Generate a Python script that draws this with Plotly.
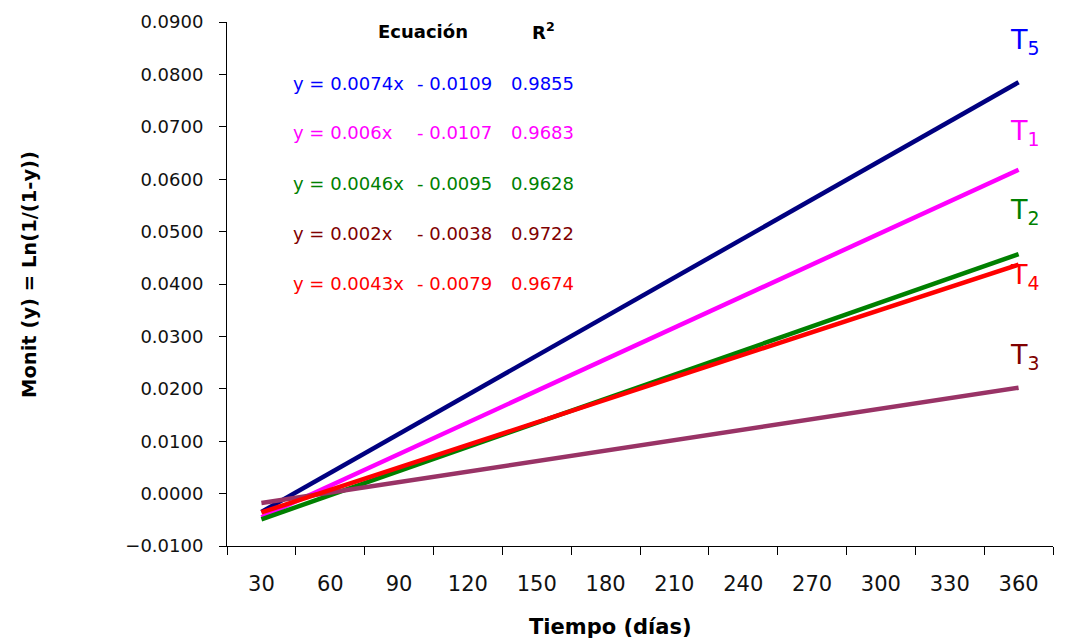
import plotly.graph_objects as go

# ---- data ----
days = [30, 60, 90, 120, 150, 180, 210, 240, 270, 300, 330, 360]
tick_labels = ["30", "60", "90", "120", "150", "180", "210", "240", "270", "300", "330", "360"]
line_x = [30, 360]  # trend lines drawn from first to last day
series_names = ["T5", "T1", "T2", "T3", "T4"]
t5_vals = [-0.0035, 0.0785]
t1_vals = [-0.0045, 0.0618]
t2_vals = [-0.0049, 0.0457]
t3_vals = [-0.0018, 0.0202]
t4_vals = [-0.0036, 0.0437]
equations_left = ["y = 0.0074x", "y = 0.006x", "y = 0.0046x", "y = 0.002x", "y = 0.0043x"]
equations_right = ["- 0.0109", "- 0.0107", "- 0.0095", "- 0.0038", "- 0.0079"]
r2_values = ["0.9855", "0.9683", "0.9628", "0.9722", "0.9674"]
y_tick_vals = [-0.01, 0.0, 0.01, 0.02, 0.03, 0.04, 0.05, 0.06, 0.07, 0.08, 0.09]

# ---- styles ----
line_colors = ["#000080", "#FF00FF", "#008000", "#993366", "#FF0000"]
text_colors = ["#0000FF", "#FF00FF", "#008000", "#800000", "#FF0000"]
FONT = "DejaVu Sans"

W, H = 1068, 644
L, R, T, B = 227, 15, 22, 98
PW, PH = W - L - R, H - T - B


def px(xp):
    return (xp - L) / PW


def py(yp):
    return (H - B - yp) / PH


fig = go.Figure()
all_vals = [t5_vals, t1_vals, t2_vals, t3_vals, t4_vals]
for name, vals, col in zip(series_names, all_vals, line_colors):
    fig.add_trace(go.Scatter(x=line_x, y=vals, mode="lines", name=name,
                             line=dict(color=col, width=4.5), showlegend=False))

ann = []
# header
ann.append(dict(x=px(423), y=py(31), text="<b>Ecuación</b>", font=dict(size=18, color="#000", family=FONT)))
ann.append(dict(x=px(543), y=py(31), text="<b>R<sup>2</sup></b>", font=dict(size=18, color="#000", family=FONT)))
eq_y = [83, 132, 183, 233, 283]
for i in range(5):
    f = dict(size=18, color=text_colors[i], family=FONT)
    ann.append(dict(x=px(291), y=py(eq_y[i]), text=equations_left[i], font=f, xanchor="left"))
    ann.append(dict(x=px(415), y=py(eq_y[i]), text=equations_right[i], font=f, xanchor="left"))
    ann.append(dict(x=px(509), y=py(eq_y[i]), text=r2_values[i], font=f, xanchor="left"))

# series labels at right
lab_pos = {"T5": 42, "T1": 132, "T2": 211, "T4": 276, "T3": 356}
for name, col in zip(series_names, text_colors):
    ann.append(dict(x=px(1025), y=py(lab_pos[name]), text=f"T<sub>{name[1]}</sub>",
                    font=dict(size=27, color=col, family=FONT)))

# axis titles
ann.append(dict(x=px(610), y=py(627), text="<b>Tiempo (días)</b>", font=dict(size=21, color="#000", family=FONT)))
ann.append(dict(x=px(29), y=py(275), text="<b>Monit (y) = Ln(1/(1-y))</b>", textangle=-90,
                font=dict(size=19.5, color="#000", family=FONT)))

for a in ann:
    a.update(xref="paper", yref="paper", showarrow=False)
    a.setdefault("xanchor", "center")
    a.setdefault("yanchor", "middle")

step = days[1] - days[0]
fig.update_layout(
    width=W, height=H,
    margin=dict(l=L, r=R, t=T, b=B),
    plot_bgcolor="white", paper_bgcolor="white",
    annotations=ann,
    font=dict(family=FONT, color="#111"),
    xaxis=dict(range=[days[0] - step / 2, days[-1] + step / 2], tickvals=days, ticktext=tick_labels,
               ticks="", showline=True, linecolor="#000", linewidth=1,
               minor=dict(ticks="outside", ticklen=8, tickcolor="#000", tickwidth=1,
                          tick0=days[0] - step / 2, dtick=step, showgrid=False),
               showgrid=False, zeroline=False, tickfont=dict(size=21, family=FONT, color="#111"),
               ticklabelstandoff=19),
    yaxis=dict(range=[-0.01, 0.09], tickvals=y_tick_vals, tickformat=".4f",
               ticks="outside", ticklen=7, tickcolor="#000", tickwidth=1,
               showline=True, linecolor="#000", linewidth=1, showgrid=False, zeroline=False,
               tickfont=dict(size=18, family=FONT, color="#111"), ticklabelstandoff=12),
)

fig.write_html("out.html")
